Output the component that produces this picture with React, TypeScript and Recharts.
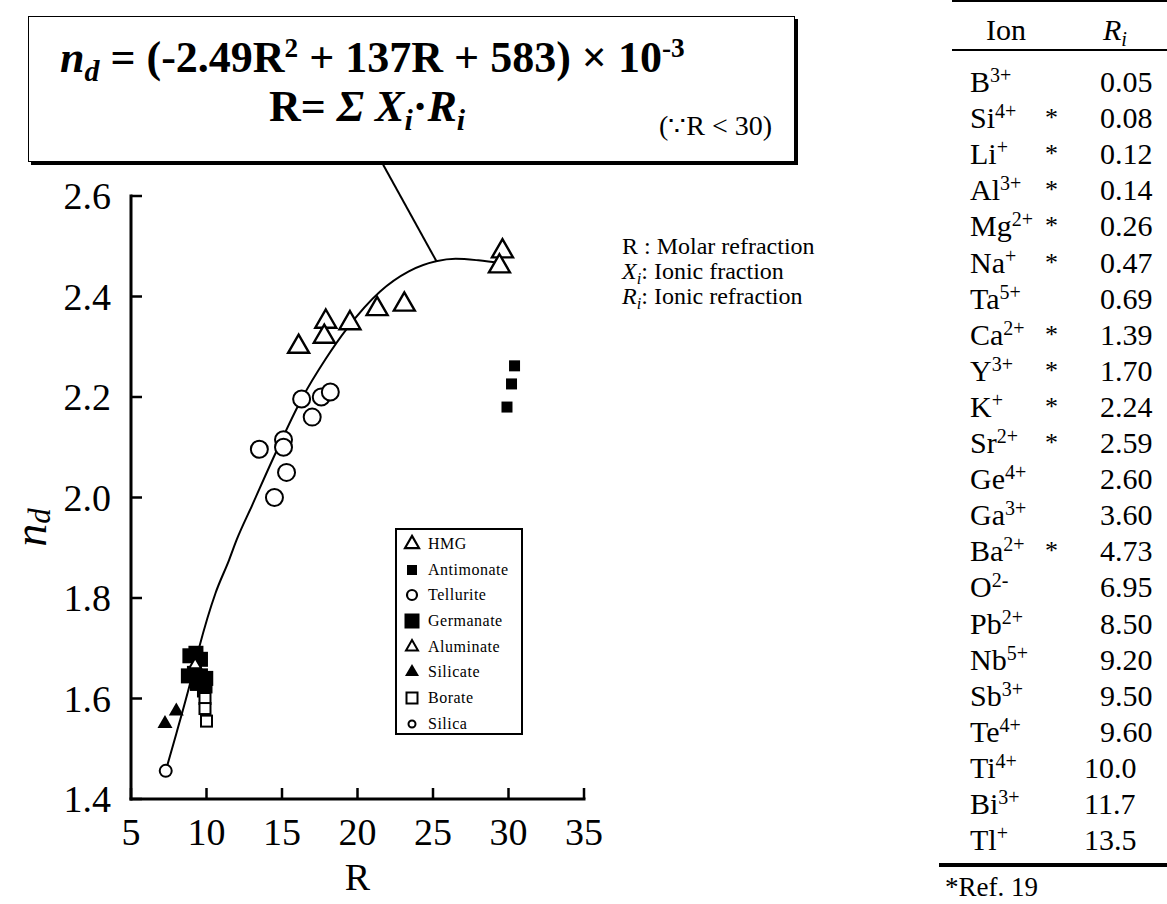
import React from 'react';
import { ComposedChart, Scatter, Line, XAxis, YAxis, ReferenceLine, Legend } from 'recharts';

const FONT = '"Liberation Serif", "Times New Roman", Times, serif';

// points (R, n_d)
const hmg = [
  { R: 16.1, nd: 2.3 },
  { R: 17.9, nd: 2.35 },
  { R: 17.8, nd: 2.32 },
  { R: 19.5, nd: 2.347 },
  { R: 21.3, nd: 2.375 },
  { R: 23.1, nd: 2.384 },
  { R: 29.6, nd: 2.49 },
  { R: 29.4, nd: 2.46 },
];
const antimonate = [
  { R: 30.4, nd: 2.262 },
  { R: 30.2, nd: 2.226 },
  { R: 29.9, nd: 2.18 },
];
const tellurite = [
  { R: 16.3, nd: 2.196 },
  { R: 17.6, nd: 2.2 },
  { R: 18.2, nd: 2.21 },
  { R: 17.0, nd: 2.16 },
  { R: 13.5, nd: 2.096 },
  { R: 15.1, nd: 2.115 },
  { R: 15.1, nd: 2.1 },
  { R: 15.3, nd: 2.05 },
  { R: 14.5, nd: 2.0 },
];
const borate = [
  { R: 9.8, nd: 1.615 },
  { R: 9.9, nd: 1.6 },
  { R: 9.9, nd: 1.58 },
  { R: 10.0, nd: 1.555 },
];
const germanate = [
  { R: 8.9, nd: 1.685 },
  { R: 9.3, nd: 1.69 },
  { R: 9.6, nd: 1.678 },
  { R: 8.8, nd: 1.645 },
  { R: 9.2, nd: 1.65 },
  { R: 9.6, nd: 1.645 },
  { R: 9.95, nd: 1.64 },
  { R: 9.4, nd: 1.63 },
  { R: 9.9, nd: 1.625 },
];
const aluminate = [{ R: 9.25, nd: 1.667 }];
const silicate = [
  { R: 7.25, nd: 1.55 },
  { R: 8.0, nd: 1.575 },
];
const silica = [{ R: 7.3, nd: 1.456 }];

// fitted curve as drawn in the figure
const fitCurve = [
  { R: 7.3, nd: 1.456 },
  { R: 8.0, nd: 1.53 },
  { R: 9.0, nd: 1.64 },
  { R: 9.5, nd: 1.7 },
  { R: 10.6, nd: 1.81 },
  { R: 11.5, nd: 1.876 },
  { R: 12.0, nd: 1.916 },
  { R: 13.0, nd: 1.983 },
  { R: 14.6, nd: 2.09 },
  { R: 16.3, nd: 2.196 },
  { R: 17.9, nd: 2.276 },
  { R: 19.3, nd: 2.336 },
  { R: 21.5, nd: 2.41 },
  { R: 23.4, nd: 2.45 },
  { R: 25.2, nd: 2.47 },
  { R: 26.5, nd: 2.475 },
  { R: 28.0, nd: 2.472 },
  { R: 29.6, nd: 2.466 },
];

const calloutFrom = { R: 21.7, nd: 2.662 };
const calloutTo = { R: 25.25, nd: 2.469 };

const xTicks = [5, 10, 15, 20, 25, 30, 35];
const yTicks = [1.4, 1.6, 1.8, 2.0, 2.2, 2.4, 2.6];

const legendNames = ['HMG', 'Antimonate', 'Tellurite', 'Germanate', 'Aluminate', 'Silicate', 'Borate', 'Silica'];

// ionic refraction table
const ionSymbols = ['B', 'Si', 'Li', 'Al', 'Mg', 'Na', 'Ta', 'Ca', 'Y', 'K', 'Sr', 'Ge', 'Ga', 'Ba', 'O', 'Pb', 'Nb', 'Sb', 'Te', 'Ti', 'Bi', 'Tl'];
const ionCharges = ['3+', '4+', '+', '3+', '2+', '+', '5+', '2+', '3+', '+', '2+', '4+', '3+', '2+', '2-', '2+', '5+', '3+', '4+', '4+', '3+', '+'];
const ionRef19 = [false, true, true, true, true, true, false, true, true, true, true, false, false, true, false, false, false, false, false, false, false, false];
const ionRi = ['0.05', '0.08', '0.12', '0.14', '0.26', '0.47', '0.69', '1.39', '1.70', '2.24', '2.59', '2.60', '3.60', '4.73', '6.95', '8.50', '9.20', '9.50', '9.60', '10.0', '11.7', '13.5'];

const tri = (cx: number, cy: number, side: number, fill: string, sw: number) => {
  const h = side * 0.866;
  const d = `M${cx},${cy - (2 * h) / 3}L${cx + side / 2},${cy + h / 3}L${cx - side / 2},${cy + h / 3}Z`;
  return <path d={d} fill={fill} stroke="#000" strokeWidth={sw} />;
};
const sq = (cx: number, cy: number, s: number, fill: string, sw: number) => (
  <rect x={cx - s / 2} y={cy - s / 2} width={s} height={s} fill={fill} stroke="#000" strokeWidth={sw} />
);
const circ = (cx: number, cy: number, r: number, sw: number) => (
  <circle cx={cx} cy={cy} r={r} fill="#fff" stroke="#000" strokeWidth={sw} />
);

const drawMarker = (kind: string, cx: number, cy: number, small = false) => {
  switch (kind) {
    case 'HMG':
      return small ? tri(cx, cy, 14, '#fff', 2.2) : tri(cx, cy, 21, '#fff', 2.4);
    case 'Antimonate':
      return small ? sq(cx, cy, 10, '#000', 0) : sq(cx, cy, 11, '#000', 0);
    case 'Tellurite':
      return small ? circ(cx, cy, 5, 2.2) : circ(cx, cy, 8.5, 2);
    case 'Germanate':
      return small ? sq(cx, cy, 15, '#000', 0) : sq(cx, cy, 15, '#000', 0);
    case 'Aluminate':
      return small ? tri(cx, cy, 12, '#fff', 2) : tri(cx, cy, 12, '#fff', 2);
    case 'Silicate':
      return small ? tri(cx, cy, 14, '#000', 0) : tri(cx, cy, 15, '#000', 0);
    case 'Borate':
      return small ? sq(cx, cy, 11, '#fff', 2) : sq(cx, cy, 11, '#fff', 2);
    default:
      return small ? circ(cx, cy, 3.5, 2) : circ(cx, cy, 6, 2);
  }
};

const shapeOf = (kind: string) => (p: any) => <g>{drawMarker(kind, p.cx, p.cy)}</g>;

const LeftTick = (p: any) => (
  <g>
    <line x1={p.x} y1={p.y} x2={p.x + 11} y2={p.y} stroke="#000" strokeWidth={2.5} />
    <text x={p.x - 20} y={p.y} textAnchor="end" dominantBaseline="central" fontFamily={FONT} fontSize={38} fill="#000">
      {Number(p.payload.value).toFixed(1)}
    </text>
  </g>
);
const BottomTick = (p: any) => (
  <g>
    <line x1={p.x} y1={p.y} x2={p.x} y2={p.y - 11} stroke="#000" strokeWidth={2.5} />
    <text x={p.x} y={p.y + 33} textAnchor="middle" dominantBaseline="central" fontFamily={FONT} fontSize={38} fill="#000">
      {p.payload.value}
    </text>
  </g>
);
const TopTick = (p: any) => <line x1={p.x} y1={p.y} x2={p.x} y2={p.y + 11} stroke="#000" strokeWidth={2.5} />;
const RightTick = (p: any) => <line x1={p.x} y1={p.y} x2={p.x - 11} y2={p.y} stroke="#000" strokeWidth={2.5} />;

const XTitle = (p: any) => {
  const vb = p.viewBox;
  return (
    <text x={vb.x + vb.width / 2} y={vb.y + 78} textAnchor="middle" dominantBaseline="central" fontFamily={FONT} fontSize={38} fill="#000">
      R
    </text>
  );
};
const YTitle = (p: any) => {
  const vb = p.viewBox;
  const x = 30;
  const y = vb.y + vb.height / 2 + 30;
  return (
    <text x={x} y={y} transform={`rotate(-90, ${x}, ${y})`} textAnchor="middle" dominantBaseline="central" fontFamily={FONT} fontSize={46} fontStyle="italic" fill="#000">
      <tspan>n</tspan>
      <tspan fontSize={31} dy={9}>d</tspan>
    </text>
  );
};

const renderLegend = () => (
  <div
    style={{
      width: 128,
      height: 207,
      border: '2px solid #000',
      boxSizing: 'border-box',
      background: '#fff',
      paddingTop: 1,
      fontFamily: FONT,
      fontSize: 16,
      letterSpacing: 0.5,
      color: '#000',
    }}
  >
    {legendNames.map((name) => (
      <div key={name} style={{ height: 25.7, display: 'flex', alignItems: 'center' }}>
        <svg width={30} height={22} style={{ flex: 'none' }}>
          {drawMarker(name, 15, 11, true)}
        </svg>
        <span style={{ marginLeft: 1 }}>{name}</span>
      </div>
    ))}
  </div>
);

const axisLine = { stroke: '#000', strokeWidth: 3, strokeLinecap: 'square' as const };

const RefractionChart = () => (
  <ComposedChart width={640} height={904} margin={{ top: 196, right: 56, bottom: 24, left: 0 }}>
    <XAxis
      type="number"
      dataKey="R"
      domain={[5, 35]}
      ticks={xTicks}
      interval={0}
      height={81}
      tickSize={0}
      tickMargin={0}
      tickLine={false}
      axisLine={axisLine}
      tick={BottomTick}
      label={XTitle}
      allowDataOverflow
    />
    <XAxis
      xAxisId="top"
      orientation="top"
      type="number"
      dataKey="R"
      domain={[5, 35]}
      ticks={xTicks}
      interval={0}
      height={0}
      tickSize={0}
      tickMargin={0}
      tickLine={false}
      axisLine={axisLine}
      tick={TopTick}
      allowDataOverflow
    />
    <YAxis
      type="number"
      dataKey="nd"
      domain={[1.4, 2.6]}
      ticks={yTicks}
      interval={0}
      width={131}
      tickSize={0}
      tickMargin={0}
      tickLine={false}
      axisLine={axisLine}
      tick={LeftTick}
      label={YTitle}
      allowDataOverflow
    />
    <YAxis
      yAxisId="right"
      orientation="right"
      type="number"
      dataKey="nd"
      domain={[1.4, 2.6]}
      ticks={yTicks}
      interval={0}
      width={0}
      tickSize={0}
      tickMargin={0}
      tickLine={false}
      axisLine={axisLine}
      tick={RightTick}
      allowDataOverflow
    />
    <Line data={fitCurve} dataKey="nd" type="monotone" stroke="#000" strokeWidth={2} dot={false} isAnimationActive={false} />
    <ReferenceLine
      segment={[
        { x: calloutFrom.R, y: calloutFrom.nd },
        { x: calloutTo.R, y: calloutTo.nd },
      ]}
      stroke="#000"
      strokeWidth={2}
      ifOverflow="visible"
    />
    <Scatter name="HMG" data={hmg} dataKey="nd" shape={shapeOf('HMG')} isAnimationActive={false} />
    <Scatter name="Antimonate" data={antimonate} dataKey="nd" shape={shapeOf('Antimonate')} isAnimationActive={false} />
    <Scatter name="Tellurite" data={tellurite} dataKey="nd" shape={shapeOf('Tellurite')} isAnimationActive={false} />
    <Scatter name="Borate" data={borate} dataKey="nd" shape={shapeOf('Borate')} isAnimationActive={false} />
    <Scatter name="Germanate" data={germanate} dataKey="nd" shape={shapeOf('Germanate')} isAnimationActive={false} />
    <Scatter name="Aluminate" data={aluminate} dataKey="nd" shape={shapeOf('Aluminate')} isAnimationActive={false} />
    <Scatter name="Silicate" data={silicate} dataKey="nd" shape={shapeOf('Silicate')} isAnimationActive={false} />
    <Scatter name="Silica" data={silica} dataKey="nd" shape={shapeOf('Silica')} isAnimationActive={false} />
    <Legend
      layout="vertical"
      align="center"
      verticalAlign="middle"
      content={renderLegend}
      wrapperStyle={{ left: 395, top: 528, width: 128, height: 207 }}
    />
  </ComposedChart>
);

const sub = { fontSize: '0.68em', verticalAlign: '-0.3em', lineHeight: 0 } as const;
const sup = { fontSize: '0.62em', verticalAlign: '0.55em', lineHeight: 0 } as const;

const EquationBox = () => (
  <div
    style={{
      position: 'absolute',
      left: 28,
      top: 16,
      width: 767,
      height: 146,
      boxSizing: 'border-box',
      border: '1.5px solid #000',
      boxShadow: '3px 3px 0 #000',
      background: '#fff',
      fontFamily: FONT,
      color: '#000',
    }}
  >
    <div style={{ position: 'absolute', left: 31, top: 19, fontSize: 44, lineHeight: '44px', fontWeight: 700, whiteSpace: 'nowrap' }}>
      <i>n</i>
      <i style={sub}>d</i> = (-2.49R<span style={sup}>2</span> + 137R + 583) × 10<span style={sup}>-3</span>
    </div>
    <div style={{ position: 'absolute', left: 240, top: 68, fontSize: 44, lineHeight: '44px', fontWeight: 700, whiteSpace: 'nowrap' }}>
      R= <i>Σ</i> <i>X</i>
      <i style={sub}>i</i>·<i>R</i>
      <i style={sub}>i</i>
    </div>
    <div style={{ position: 'absolute', left: 630, top: 94, fontSize: 28, lineHeight: '30px', whiteSpace: 'nowrap' }}>
      (∵R &lt; 30)
    </div>
  </div>
);

const Definitions = () => (
  <div style={{ position: 'absolute', left: 622, top: 234, fontFamily: FONT, fontSize: 24, lineHeight: '25px', color: '#000', whiteSpace: 'nowrap' }}>
    <div>R : Molar refraction</div>
    <div>
      <i>X</i>
      <i style={sub}>i</i>: Ionic fraction
    </div>
    <div>
      <i>R</i>
      <i style={sub}>i</i>: Ionic refraction
    </div>
  </div>
);

const RiTable = () => (
  <div style={{ position: 'absolute', left: 0, top: 0, width: 1167, height: 904, fontFamily: FONT, color: '#000' }}>
    <div style={{ position: 'absolute', left: 952, top: 0, width: 215, height: 2, background: '#000' }} />
    <div style={{ position: 'absolute', left: 986, top: 13, fontSize: 30, lineHeight: '34px' }}>Ion</div>
    <div style={{ position: 'absolute', left: 1103, top: 13, fontSize: 30, lineHeight: '34px', fontStyle: 'italic' }}>
      R<span style={sub}>i</span>
    </div>
    <div style={{ position: 'absolute', left: 952, top: 49, width: 215, height: 2, background: '#000' }} />
    {ionSymbols.map((s, i) => {
      const cy = 82 + i * 36.1;
      const v = ionRi[i];
      const vx = 1100 - (v.indexOf('.') - 1) * 16;
      return (
        <React.Fragment key={s}>
          <div style={{ position: 'absolute', left: 970, top: cy - 17, fontSize: 30, lineHeight: '34px', whiteSpace: 'nowrap' }}>
            {s}
            <span style={{ fontSize: 20, verticalAlign: '0.5em', lineHeight: 0 }}>{ionCharges[i]}</span>
          </div>
          {ionRef19[i] && (
            <div style={{ position: 'absolute', left: 1045, top: cy - 14, fontSize: 26, lineHeight: '28px' }}>*</div>
          )}
          <div style={{ position: 'absolute', left: vx, top: cy - 17, fontSize: 30, lineHeight: '34px' }}>{v}</div>
        </React.Fragment>
      );
    })}
    <div style={{ position: 'absolute', left: 939, top: 863, width: 228, height: 4, background: '#000' }} />
    <div style={{ position: 'absolute', left: 945, top: 872, fontSize: 27, lineHeight: '30px', whiteSpace: 'nowrap' }}>*Ref. 19</div>
  </div>
);

export default function App() {
  return (
    <div style={{ position: 'absolute', left: 0, top: 0, width: 1167, height: 904, background: '#fff', overflow: 'hidden' }}>
      <RiTable />
      <div style={{ position: 'absolute', left: 0, top: 0 }}>
        <RefractionChart />
      </div>
      <EquationBox />
      <Definitions />
    </div>
  );
}
